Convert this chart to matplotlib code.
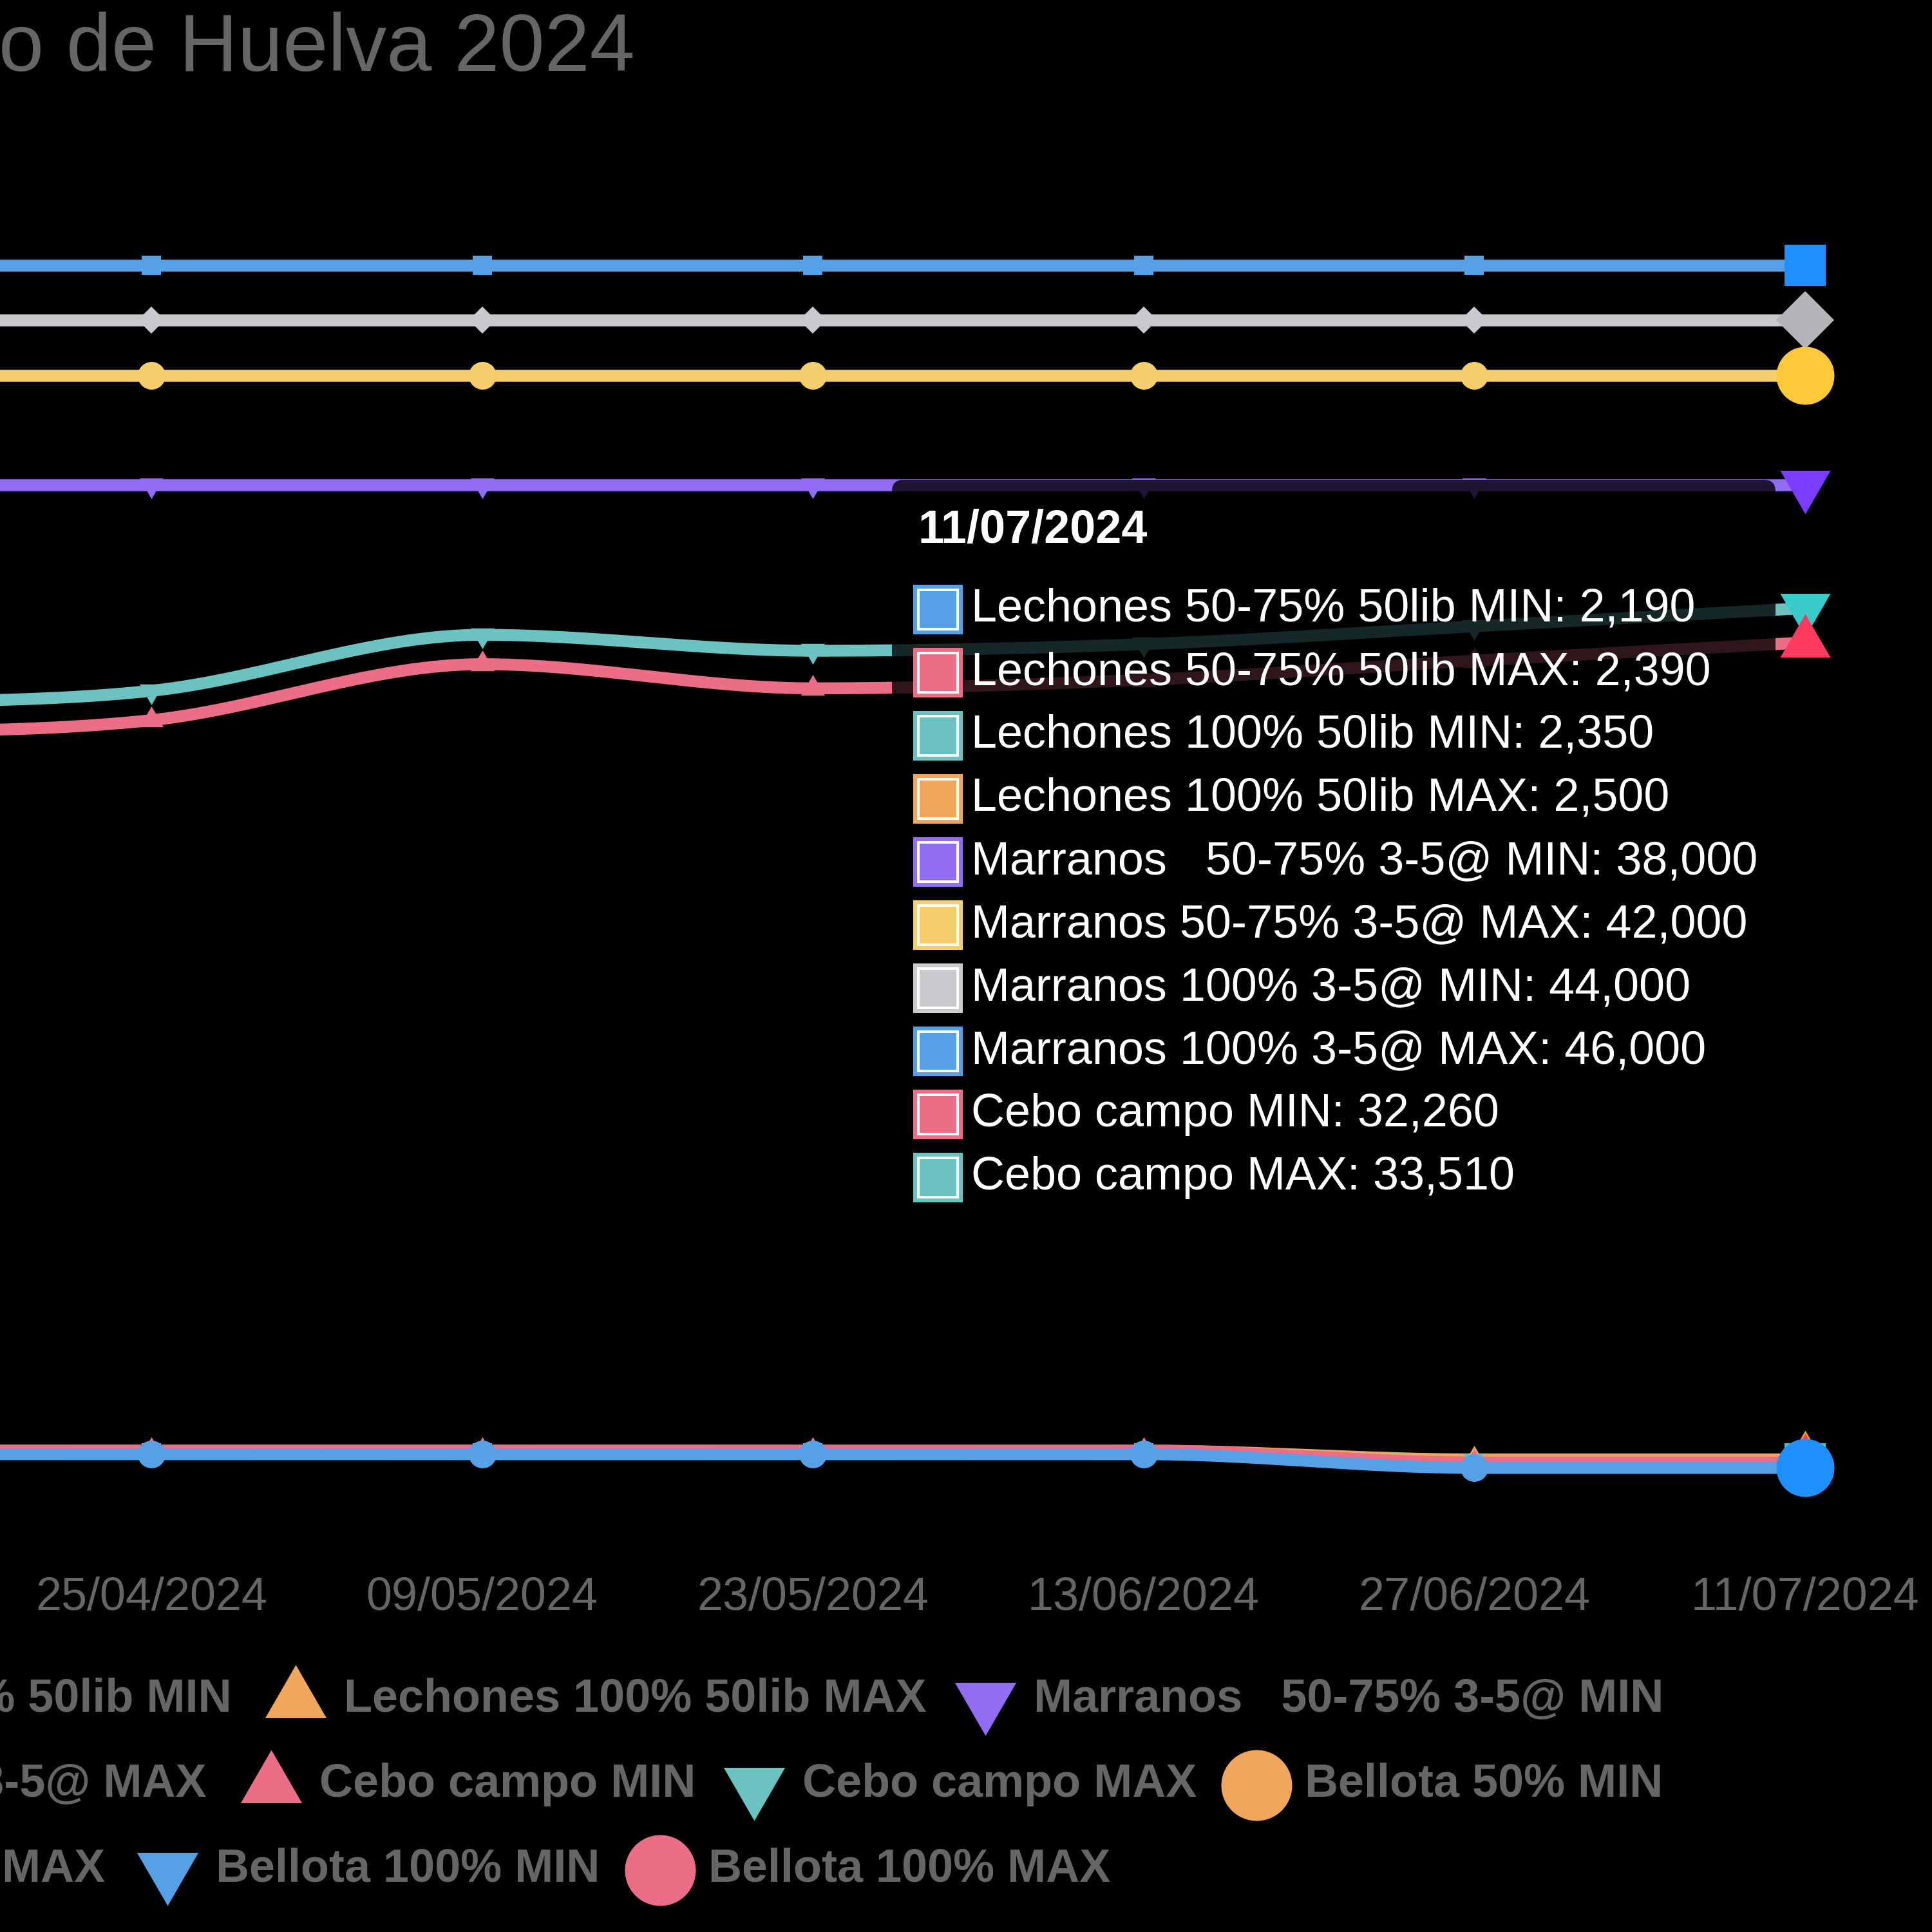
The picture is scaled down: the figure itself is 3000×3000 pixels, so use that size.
"""Cropped Chart.js-style line chart: pig prices, Mercado de Huelva 2024."""
import numpy as np
import matplotlib
matplotlib.use("Agg")
import matplotlib.pyplot as plt
from matplotlib.lines import Line2D
from matplotlib.patches import FancyBboxPatch, Rectangle

plt.rcParams["font.family"] = ["Liberation Sans", "DejaVu Sans"]

W = H = 3000
DPI = 100
PT = 72 / DPI          # px -> pt

# ---------------------------------------------------------------------------
# data
# ---------------------------------------------------------------------------
TITLE = "o de Huelva 2024"
DATES = ["11/04/2024", "25/04/2024", "09/05/2024", "23/05/2024",
         "13/06/2024", "27/06/2024", "11/07/2024"]

LECH_5075_MIN = [2690, 2690, 2690, 2690, 2690, 2190, 2190]
LECH_5075_MAX = [2820, 2820, 2820, 2820, 2820, 2390, 2390]
LECH_100_MIN = [2750, 2750, 2750, 2750, 2750, 2350, 2350]
LECH_100_MAX = [2820, 2820, 2820, 2820, 2820, 2500, 2500]
MARR_5075_MIN = [38000, 38000, 38000, 38000, 38000, 38000, 38000]
MARR_5075_MAX = [42000, 42000, 42000, 42000, 42000, 42000, 42000]
MARR_100_MIN = [44000, 44000, 44000, 44000, 44000, 44000, 44000]
MARR_100_MAX = [46000, 46000, 46000, 46000, 46000, 46000, 46000]
CEBO_MIN = [28900, 29430, 31470, 30590, 30900, 31600, 32260]
CEBO_MAX = [30000, 30500, 32540, 31960, 32200, 32850, 33510]

LABELS = ["Lechones 50-75% 50lib MIN", "Lechones 50-75% 50lib MAX",
          "Lechones 100% 50lib MIN", "Lechones 100% 50lib MAX",
          "Marranos   50-75% 3-5@ MIN", "Marranos 50-75% 3-5@ MAX",
          "Marranos 100% 3-5@ MIN", "Marranos 100% 3-5@ MAX",
          "Cebo campo MIN", "Cebo campo MAX",
          "Bellota 50% MIN", "Bellota 50% MAX",
          "Bellota 100% MIN", "Bellota 100% MAX"]
# Bellota series carry no values over the visible dates
VALUES = [LECH_5075_MIN, LECH_5075_MAX, LECH_100_MIN, LECH_100_MAX,
          MARR_5075_MIN, MARR_5075_MAX, MARR_100_MIN, MARR_100_MAX,
          CEBO_MIN, CEBO_MAX, None, None, None, None]

BLUE, RED, TEAL, ORANGE = "#56A0E5", "#EC6D86", "#6CC1C1", "#F1A75B"
PURPLE, YELLOW, GREY = "#926CF2", "#F6CF6C", "#C8CACE"
HOVER = {BLUE: "#1E90FF", RED: "#FF3B61", TEAL: "#3BCACA", ORANGE: "#FF9A2E",
         PURPLE: "#7A3DFF", YELLOW: "#FFC93A", GREY: "#B3B5B9"}
COLORS = [BLUE, RED, TEAL, ORANGE, PURPLE, YELLOW, GREY, BLUE, RED, TEAL,
          ORANGE, PURPLE, BLUE, RED]

TRI_UP = [(0, 1), (-0.866, -0.5), (0.866, -0.5)]
TRI_DOWN = [(0, -1), (-0.866, 0.5), (0.866, 0.5)]
MARKERS = ["o", TRI_UP, "s", TRI_UP, TRI_DOWN, "o", "D", "s", TRI_UP,
           TRI_DOWN, "o", "D", TRI_DOWN, "o"]

INK = "#666666"
FS_BODY = 72 * PT


def ms_for(marker, r_px):
    """Chart.js point radius (px) -> matplotlib markersize (pt)."""
    if isinstance(marker, str) and marker in ("s", "D"):
        return 1.414 * r_px * PT
    return 2 * r_px * PT


def monotone(xs, ys, n=60):
    """Chart.js 'monotone' cubic interpolation, sampled for drawing."""
    xs = np.asarray(xs, float)
    ys = np.asarray(ys, float)
    d = np.diff(ys) / np.diff(xs)
    m = np.empty_like(ys)
    m[0], m[-1] = d[0], d[-1]
    for i in range(1, len(ys) - 1):
        m[i] = 0.0 if np.sign(d[i - 1]) != np.sign(d[i]) else (d[i - 1] + d[i]) / 2
    for i in range(len(d)):
        if abs(d[i]) < 1e-9:
            m[i] = m[i + 1] = 0.0
            continue
        a, b = m[i] / d[i], m[i + 1] / d[i]
        s = a * a + b * b
        if s > 9:
            t = 3 / np.sqrt(s)
            m[i], m[i + 1] = t * a * d[i], t * b * d[i]
    px, py = [], []
    t = np.linspace(0, 1, n)
    for i in range(len(d)):
        h = xs[i + 1] - xs[i]
        h00 = 2 * t**3 - 3 * t**2 + 1
        h10 = t**3 - 2 * t**2 + t
        h01 = -2 * t**3 + 3 * t**2
        h11 = t**3 - t**2
        px.append(xs[i] + t * h)
        py.append(h00 * ys[i] + h10 * h * m[i] + h01 * ys[i + 1] + h11 * h * m[i + 1])
    return np.concatenate(px), np.concatenate(py)


def fx(px):
    return px / W


def fy(py):
    return 1 - py / H


# ---------------------------------------------------------------------------
# figure
# ---------------------------------------------------------------------------
fig = plt.figure(figsize=(W / DPI, H / DPI), dpi=DPI, facecolor="black")
ax = fig.add_axes([0, 0, 1, 1])
ax.set_facecolor("black")
ax.axis("off")
# the chart is cropped: y axis and earliest dates lie left of the canvas
ax.set_xlim(0.5424, 6.3836)
ax.set_ylim(-14716, 55666)

x = np.arange(len(DATES))
last = len(DATES) - 1
for k, (vals, col, mk) in enumerate(zip(VALUES, COLORS, MARKERS)):
    if vals is None:
        continue
    z = 100 - 2 * k          # first dataset on top, as Chart.js draws it
    sx, sy = monotone(x, vals)
    ax.plot(sx, sy, color=col, lw=18.5 * PT, solid_capstyle="butt",
            solid_joinstyle="round", zorder=z)
    ax.plot(x[:last], vals[:last], ls="none", marker=mk,
            ms=ms_for(mk, 21.5), color=col, mew=0, zorder=z + 0.5)
    ax.plot(x[last:], vals[last:], ls="none", marker=mk,
            ms=ms_for(mk, 45), color=HOVER[col], mew=0, zorder=z + 0.5)

# category tick labels
for i, d in enumerate(DATES):
    ax.text(i, fy(2500), d, transform=ax.get_xaxis_transform(), ha="center",
            va="baseline", fontsize=FS_BODY, color=INK)

# title (left part cropped away)
fig.text(fx(-2), fy(110), TITLE, ha="left", va="baseline",
         fontsize=126 * PT, color=INK)

# --- tooltip for the hovered date ------------------------------------------
box_l, box_t, box_r, box_b = 1385, 745, 2757, 1905
fig.add_artist(FancyBboxPatch(
    (fx(box_l), fy(box_b)), fx(box_r - box_l), (box_b - box_t) / H,
    boxstyle=f"round,pad=0,rounding_size={18 / W}", transform=fig.transFigure,
    fc=(0, 0, 0, 0.8), ec="none", zorder=50))
fig.text(fx(1425), fy(843), DATES[last], ha="left", va="baseline",
         fontsize=72 * PT, weight="bold", color="white", zorder=60)
row = 0
for lab, vals, col in zip(LABELS, VALUES, COLORS):
    if vals is None:
        continue
    top = 908 + 98 * row
    fig.add_artist(Rectangle((fx(1418), fy(top + 77)), 77 / W, 77 / H,
                             transform=fig.transFigure, fc=col, ec="none",
                             zorder=55))
    fig.add_artist(Rectangle((fx(1426), fy(top + 69)), 61 / W, 61 / H,
                             transform=fig.transFigure, fc="none", ec="white",
                             lw=4 * PT, zorder=56))
    fig.text(fx(1508), fy(top + 57), f"{lab}: {vals[last]:,}", ha="left",
             va="baseline", fontsize=FS_BODY, color="white", zorder=60)
    row += 1

# --- legend (centred rows, left side cropped) -------------------------------
MARKER_Y = [2640, 2772, 2904]
TEXT_Y = [2658, 2790, 2922]
# (dataset index, row, marker centre x or None, text end x for cropped items)
LEGEND_ITEMS = [(2, 0, None, 360), (3, 0, 459, None), (4, 0, 1530, None),
                (7, 1, None, 321), (8, 1, 421, None), (9, 1, 1171, None),
                (10, 1, 1951, None),
                (11, 2, None, 163), (12, 2, 260, None), (13, 2, 1025, None)]
for k, r, mx, tend in LEGEND_ITEMS:
    if mx is None:
        fig.text(fx(tend), fy(TEXT_Y[r]), LABELS[k], ha="right", va="baseline",
                 fontsize=FS_BODY, weight="bold", color=INK)
        continue
    mk = MARKERS[k]
    fig.add_artist(Line2D([fx(mx)], [fy(MARKER_Y[r])], transform=fig.transFigure,
                          ls="none", marker=mk, ms=ms_for(mk, 55),
                          color=COLORS[k], mew=0))
    fig.text(fx(mx + 75), fy(TEXT_Y[r]), LABELS[k], ha="left", va="baseline",
             fontsize=FS_BODY, weight="bold", color=INK)

fig.savefig("out.png", dpi=DPI, facecolor="black")
plt.close(fig)
